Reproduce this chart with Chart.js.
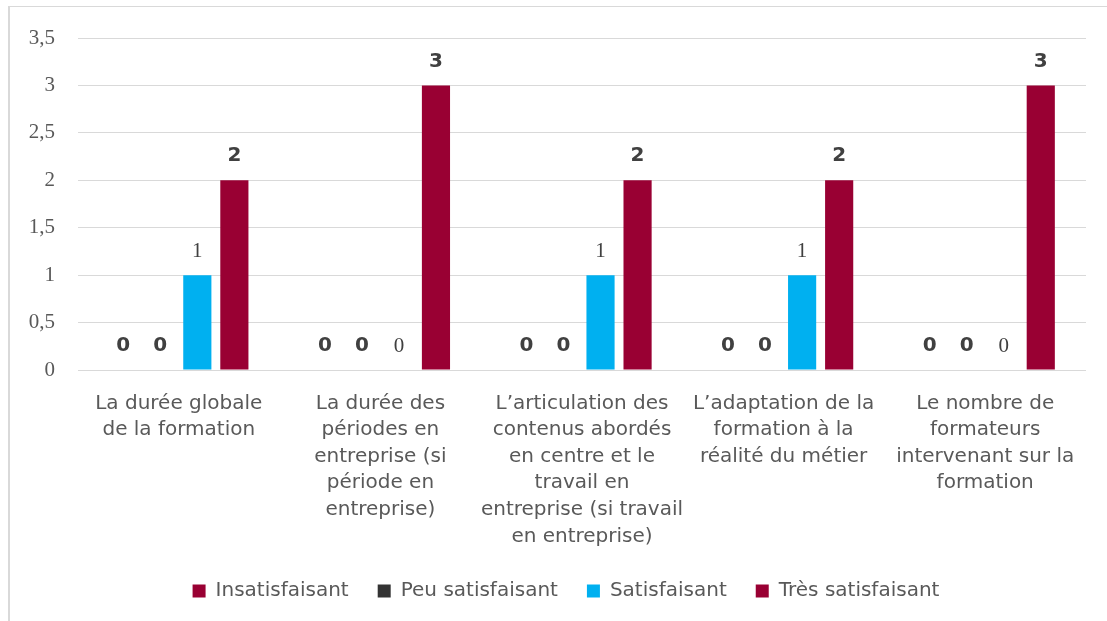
<!DOCTYPE html>
<html>
<head>
<meta charset="utf-8">
<script src="https://cdn.jsdelivr.net/npm/chart.js@4/dist/chart.umd.min.js"></script>
<style>
  html, body { margin: 0; padding: 0; background: #fff; }
  #wrap { position: relative; width: 1107px; height: 621px; overflow: hidden; }
  #frame { position: absolute; left: 8px; top: 6px; width: 1120px; height: 640px;
           border-left: 2px solid #d9d9d9; border-top: 1px solid #d9d9d9; }
  #chart { position: absolute; left: 0; top: 0; }
</style>
</head>
<body>
<div id="wrap">
  <div id="frame"></div>
  <canvas id="chart" width="1107" height="621"></canvas>
</div>
<script>
'use strict';

const categories = [
    ['La durée globale', 'de la formation'],
    ['La durée des', 'périodes en', 'entreprise (si', 'période en', 'entreprise)'],
    ['L’articulation des', 'contenus abordés', 'en centre et le', 'travail en', 'entreprise (si travail', 'en entreprise)'],
    ['L’adaptation de la', 'formation à la', 'réalité du métier'],
    ['Le nombre de', 'formateurs', 'intervenant sur la', 'formation']
];
const seriesNames = ['Insatisfaisant', 'Peu satisfaisant', 'Satisfaisant', 'Très satisfaisant'];
const insatisfaisant = [0, 0, 0, 0, 0];
const peuSatisfaisant = [0, 0, 0, 0, 0];
const satisfaisant = [1, 0, 1, 1, 0];
const tresSatisfaisant = [2, 3, 2, 2, 3];
const yTicks = [0, 0.5, 1, 1.5, 2, 2.5, 3, 3.5];

const seriesColors = ['#990033', '#333333', '#00b0f0', '#990033'];
const labelFonts = [
    'bold 20px "DejaVu Sans"',
    'bold 20px "DejaVu Sans"',
    '21px "Liberation Serif"',
    'bold 20px "DejaVu Sans"'
];

// valeurs au-dessus des barres
const valueLabels = {
    id: 'valueLabels',
    afterLayout(chart) {
        // légende un peu décalée vers la droite comme dans l'original
        chart.legend.left += 12;
        chart.legend.right += 12;
    },
    afterDatasetsDraw(chart) {
        const ctx = chart.ctx;
        ctx.save();
        ctx.fillStyle = '#404040';
        ctx.textAlign = 'center';
        ctx.textBaseline = 'middle';
        chart.data.datasets.forEach(function (ds, i) {
            const meta = chart.getDatasetMeta(i);
            ctx.font = labelFonts[i];
            meta.data.forEach(function (bar, j) {
                ctx.fillText(String(ds.data[j]), bar.x, bar.y - 24);
            });
        });
        ctx.restore();
    }
};

const allSeries = [insatisfaisant, peuSatisfaisant, satisfaisant, tresSatisfaisant];

new Chart('chart', {
    type: 'bar',
    data: {
        labels: categories,
        datasets: allSeries.map(function (values, i) {
            return {
                label: seriesNames[i],
                data: values,
                backgroundColor: seriesColors[i],
                borderWidth: 0,
                categoryPercentage: 0.735,
                barPercentage: 0.76
            };
        })
    },
    options: {
        responsive: false,
        animation: false,
        layout: { padding: { left: 22, right: 21, top: 38, bottom: 10 } },
        plugins: {
            tooltip: { enabled: false },
            legend: {
                position: 'bottom',
                labels: {
                    boxWidth: 13,
                    boxHeight: 13,
                    padding: 29,
                    color: '#595959',
                    font: { family: '"DejaVu Sans"', size: 20 }
                }
            }
        },
        scales: {
            x: {
                grid: { display: false },
                border: { display: false },
                ticks: {
                    color: '#595959',
                    padding: 12,
                    maxRotation: 0,
                    autoSkip: false,
                    font: { family: '"DejaVu Sans"', size: 20, lineHeight: 1.33 }
                },
                afterFit(scale) { scale.height = 182; }
            },
            y: {
                min: 0,
                max: 3.5,
                afterBuildTicks(scale) {
                    scale.ticks = yTicks.map(function (v) { return { value: v }; });
                },
                grid: { color: '#d9d9d9', lineWidth: 1, drawTicks: false },
                border: { display: false },
                ticks: {
                    color: '#595959',
                    padding: 23,
                    font: { family: '"Liberation Serif"', size: 21 },
                    callback: function (v) { return String(v).replace('.', ','); }
                },
                afterFit(scale) { scale.width = 56; }
            }
        }
    },
    plugins: [valueLabels]
});
</script>
</body>
</html>
